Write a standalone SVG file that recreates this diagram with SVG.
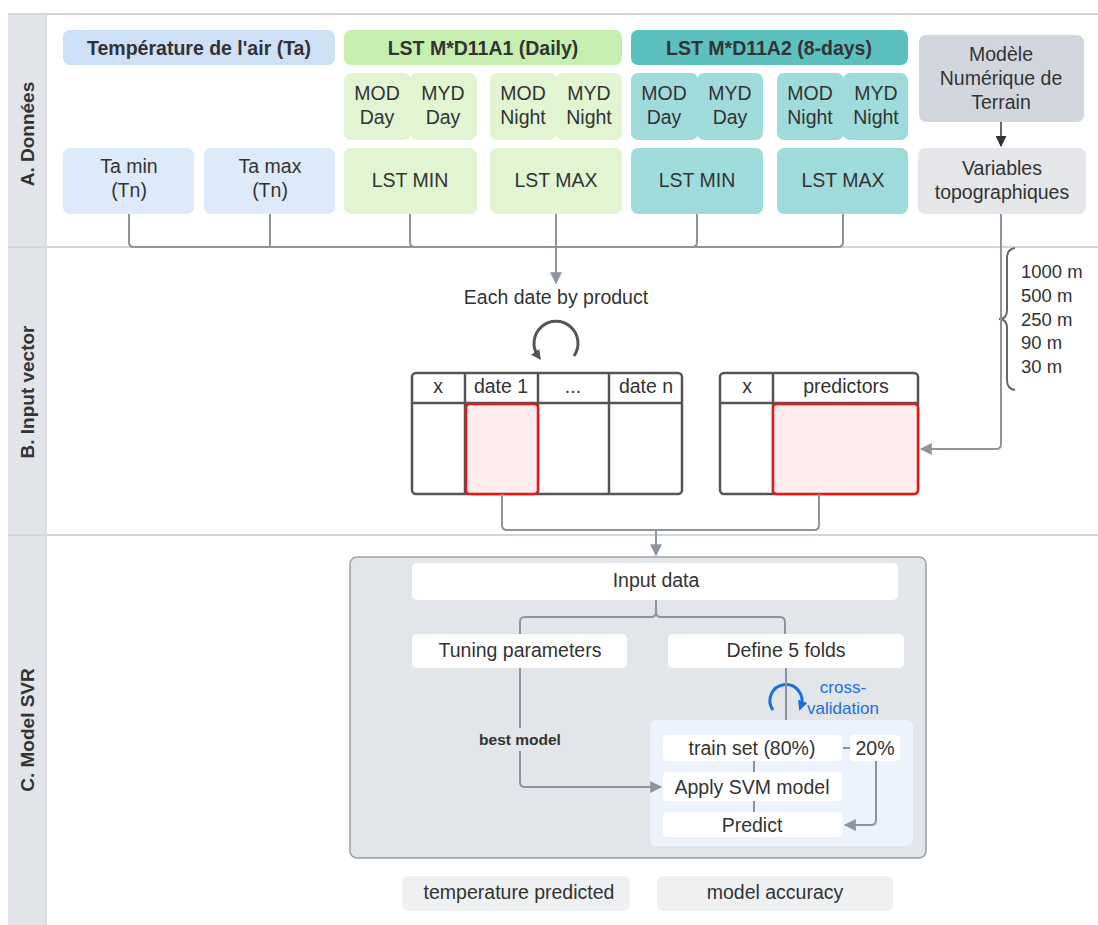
<svg xmlns="http://www.w3.org/2000/svg" width="1098" height="925" viewBox="0 0 1098 925">
<defs>
<style>
text{font-family:"Liberation Sans",Arial,sans-serif;fill:#333;}
.hd{font-weight:bold;font-size:19.5px;text-anchor:middle;}
.t{font-size:19.5px;text-anchor:middle;}
.s{font-size:19.5px;text-anchor:middle;}
.lane{font-weight:bold;font-size:19px;text-anchor:middle;}
.con{fill:none;stroke:#8d949e;stroke-width:2;}
.tbl{fill:#fff;stroke:#555;stroke-width:2.5;}
.red{fill:#ffecec;stroke:#e01b1b;stroke-width:2.5;}
.wb{fill:#fff;}
</style>
<marker id="arg" viewBox="0 0 10 10" refX="9" refY="5" markerWidth="14" markerHeight="12" orient="auto" markerUnits="userSpaceOnUse">
<path d="M0,0 L10,5 L0,10 z" fill="#8d949e"/>
</marker>
<marker id="ard" viewBox="0 0 10 10" refX="9" refY="5" markerWidth="11" markerHeight="11" orient="auto" markerUnits="userSpaceOnUse">
<path d="M0,0 L10,5 L0,10 z" fill="#333"/>
</marker>
<marker id="arc1" viewBox="0 0 10 10" refX="5" refY="5" markerWidth="10" markerHeight="10" orient="auto" markerUnits="userSpaceOnUse">
<path d="M0,0 L10,5 L0,10 z" fill="#555"/>
</marker>
<marker id="arcb" viewBox="0 0 10 10" refX="5" refY="5" markerWidth="10" markerHeight="10" orient="auto" markerUnits="userSpaceOnUse">
<path d="M0,0 L10,5 L0,10 z" fill="#1a6fe0"/>
</marker>
</defs>

<!-- lanes -->
<g id="lanes">
<rect x="0" y="0" width="1098" height="925" fill="#fff"/>
<rect x="8" y="14" width="38" height="911" fill="#e1e4e9"/>
<line x1="8" y1="14" x2="1098" y2="14" stroke="#d3d6dc" stroke-width="2"/>
<line x1="8" y1="247" x2="1098" y2="247" stroke="#d3d6dc" stroke-width="2"/>
<line x1="8" y1="535" x2="1098" y2="535" stroke="#d3d6dc" stroke-width="2"/>
<line x1="46" y1="14" x2="46" y2="925" stroke="#d3d6dc" stroke-width="1.5"/>
<text class="lane" transform="translate(34,134) rotate(-90)">A. Données</text>
<text class="lane" transform="translate(34,392) rotate(-90)">B. Input vector</text>
<text class="lane" transform="translate(34,730) rotate(-90)">C. Model SVR</text>
</g>

<!-- Section A -->
<g id="hdr-ta"><rect x="63" y="30" width="272" height="35" rx="7" fill="#cde0f6"/><text class="hd" x="199" y="55">Température de l'air (Ta)</text></g>
<g id="hdr-daily"><rect x="344" y="30" width="278" height="35" rx="7" fill="#c5eeaf"/><text class="hd" x="483" y="55">LST M*D11A1 (Daily)</text></g>
<g id="hdr-8days"><rect x="631" y="30" width="277" height="35" rx="7" fill="#5cc0bf"/><text class="hd" x="769" y="55">LST M*D11A2 (8-days)</text></g>
<g id="mnt"><rect x="919" y="35" width="165" height="87" rx="7" fill="#d1d6de"/><text class="t" x="1001" y="61">Modèle</text><text class="t" x="1001" y="85">Numérique de</text><text class="t" x="1001" y="109">Terrain</text></g>

<g id="d-modday"><rect x="344" y="73" width="67" height="67" rx="7" fill="#e1f5d2"/><text class="t" x="377" y="100">MOD</text><text class="t" x="377" y="124">Day</text></g>
<g id="d-mydday"><rect x="410" y="73" width="67" height="67" rx="7" fill="#e1f5d2"/><text class="t" x="443" y="100">MYD</text><text class="t" x="443" y="124">Day</text></g>
<g id="d-modnight"><rect x="490" y="73" width="67" height="67" rx="7" fill="#e1f5d2"/><text class="t" x="523" y="100">MOD</text><text class="t" x="523" y="124">Night</text></g>
<g id="d-mydnight"><rect x="556" y="73" width="66" height="67" rx="7" fill="#e1f5d2"/><text class="t" x="589" y="100">MYD</text><text class="t" x="589" y="124">Night</text></g>
<g id="e-modday"><rect x="631" y="73" width="67" height="67" rx="7" fill="#a0dbdb"/><text class="t" x="664" y="100">MOD</text><text class="t" x="664" y="124">Day</text></g>
<g id="e-mydday"><rect x="697" y="73" width="66" height="67" rx="7" fill="#a0dbdb"/><text class="t" x="730" y="100">MYD</text><text class="t" x="730" y="124">Day</text></g>
<g id="e-modnight"><rect x="777" y="73" width="67" height="67" rx="7" fill="#a0dbdb"/><text class="t" x="810" y="100">MOD</text><text class="t" x="810" y="124">Night</text></g>
<g id="e-mydnight"><rect x="843" y="73" width="65" height="67" rx="7" fill="#a0dbdb"/><text class="t" x="876" y="100">MYD</text><text class="t" x="876" y="124">Night</text></g>

<g id="tamin"><rect x="63" y="148" width="131" height="66" rx="7" fill="#dceaf9"/><text class="t" x="129" y="173">Ta min</text><text class="t" x="129" y="197">(Tn)</text></g>
<g id="tamax"><rect x="204" y="148" width="131" height="66" rx="7" fill="#dceaf9"/><text class="t" x="270" y="173">Ta max</text><text class="t" x="270" y="197">(Tn)</text></g>
<g id="d-lstmin"><rect x="344" y="148" width="133" height="66" rx="7" fill="#e1f5d2"/><text class="t" x="410" y="187">LST MIN</text></g>
<g id="d-lstmax"><rect x="490" y="148" width="132" height="66" rx="7" fill="#e1f5d2"/><text class="t" x="556" y="187">LST MAX</text></g>
<g id="e-lstmin"><rect x="631" y="148" width="132" height="66" rx="7" fill="#a0dbdb"/><text class="t" x="697" y="187">LST MIN</text></g>
<g id="e-lstmax"><rect x="777" y="148" width="131" height="66" rx="7" fill="#a0dbdb"/><text class="t" x="843" y="187">LST MAX</text></g>
<g id="vartopo"><rect x="918" y="148" width="168" height="66" rx="7" fill="#e4e6ea"/><text class="t" x="1002" y="175">Variables</text><text class="t" x="1002" y="199">topographiques</text></g>

<!-- Section B -->
<g id="eachdate">
<text class="s" x="556" y="304">Each date by product</text>
<path d="M574,356 A22,22 0 1 0 538,356" fill="none" stroke="#555" stroke-width="3" marker-end="url(#arc1)"/>
</g>

<g id="table1">
<rect class="tbl" x="412" y="373" width="270" height="121" rx="4"/>
<line x1="412" y1="403" x2="682" y2="403" stroke="#555" stroke-width="2.5"/>
<line x1="465" y1="373" x2="465" y2="494" stroke="#555" stroke-width="2.5"/>
<line x1="538" y1="373" x2="538" y2="494" stroke="#555" stroke-width="2.5"/>
<line x1="609" y1="373" x2="609" y2="494" stroke="#555" stroke-width="2.5"/>
<rect class="red" x="466" y="404" width="72" height="90" rx="4"/>
<text class="s" x="438" y="393">x</text>
<text class="s" x="501" y="393">date 1</text>
<text class="s" x="573" y="393">...</text>
<text class="s" x="646" y="393">date n</text>
</g>

<g id="table2">
<rect class="tbl" x="720" y="373" width="198" height="121" rx="4"/>
<line x1="720" y1="403" x2="918" y2="403" stroke="#555" stroke-width="2.5"/>
<line x1="773" y1="373" x2="773" y2="494" stroke="#555" stroke-width="2.5"/>
<rect class="red" x="773" y="404" width="145" height="90" rx="4"/>
<text class="s" x="747" y="393">x</text>
<text class="s" x="846" y="393">predictors</text>
</g>

<g id="resolutions">
<path d="M1015,248 Q1007,249 1007,258 L1007,310 Q1007,319 999,319 Q1007,319 1007,328 L1007,380 Q1007,389 1015,390" fill="none" stroke="#666" stroke-width="2"/>
<text x="1021" y="278" font-size="18.5">1000 m</text>
<text x="1021" y="302" font-size="18.5">500 m</text>
<text x="1021" y="326" font-size="18.5">250 m</text>
<text x="1021" y="349" font-size="18.5">90 m</text>
<text x="1021" y="373" font-size="18.5">30 m</text>
</g>

<!-- Section C -->
<g id="svr-container"><rect x="350" y="557" width="576" height="301" rx="7" fill="#e2e5e9" stroke="#9aa0a8" stroke-width="1.5"/></g>
<g id="inputdata"><rect class="wb" x="412" y="563" width="486" height="37" rx="5"/><text class="s" x="656" y="587">Input data</text></g>
<g id="tuning"><rect class="wb" x="412" y="634" width="215" height="34" rx="5"/><text class="s" x="520" y="657">Tuning parameters</text></g>
<g id="folds"><rect class="wb" x="668" y="634" width="236" height="34" rx="5"/><text class="s" x="786" y="657">Define 5 folds</text></g>
<g id="cv-panel"><rect x="650" y="720" width="263" height="126" rx="6" fill="#edf3fd"/></g>
<g id="trainset"><rect class="wb" x="663" y="735" width="179" height="26" rx="4"/><text class="s" x="752" y="755">train set (80%)</text></g>
<g id="test20"><rect class="wb" x="850" y="735" width="50" height="26" rx="4"/><text class="s" x="875" y="755">20%</text></g>
<g id="applysvm"><rect class="wb" x="663" y="772" width="179" height="29" rx="4"/><text class="s" x="752" y="794">Apply SVM model</text></g>
<g id="predict"><rect class="wb" x="663" y="812" width="179" height="25" rx="4"/><text class="s" x="752" y="832">Predict</text></g>
<g id="cv-label">
<path d="M773,710 A16,16 0 1 1 801,706" fill="none" stroke="#1a6fe0" stroke-width="3" marker-end="url(#arcb)"/>
<text x="843" y="693" font-size="17" text-anchor="middle" style="fill:#1a6fe0">cross-</text>
<text x="843" y="714" font-size="17" text-anchor="middle" style="fill:#1a6fe0">validation</text>
</g>
<g id="out-temp"><rect x="402" y="876" width="228" height="35" rx="6" fill="#eef0f2"/><text class="s" x="519" y="899">temperature predicted</text></g>
<g id="out-acc"><rect x="657" y="876" width="236" height="35" rx="6" fill="#eef0f2"/><text class="s" x="775" y="899">model accuracy</text></g>

<!-- Connectors -->
<g id="connectors">
<path class="con" d="M129,214 L129,242 Q129,247 134,247 L838,247 Q843,247 843,242 L843,214"/>
<path class="con" d="M270,214 L270,247"/>
<path class="con" d="M410,214 L410,242 Q410,247 415,247"/>
<path class="con" d="M556,214 L556,247"/>
<path class="con" d="M697,214 L697,242 Q697,247 692,247"/>
<path class="con" d="M556,247 L556,283" marker-end="url(#arg)"/>
<path d="M1001,122 L1001,146" fill="none" stroke="#333" stroke-width="1.5" marker-end="url(#ard)"/>
<path class="con" d="M1001,214 L1001,444 Q1001,449 996,449 L921,449" marker-end="url(#arg)"/>
<path class="con" d="M502,494 L502,525 Q502,530 507,530 L814,530 Q819,530 819,525 L819,494"/>
<path class="con" d="M656,530 L656,555" marker-end="url(#arg)"/>
<path class="con" d="M656,600 L656,612 Q656,617 651,617 L525,617 Q520,617 520,622 L520,634"/>
<path class="con" d="M656,612 Q656,617 661,617 L780,617 Q785,617 785,622 L785,634"/>
<path class="con" d="M520,668 L520,728"/>
<path class="con" d="M520,751 L520,782 Q520,787 525,787 L661,787" marker-end="url(#arg)"/>
<text x="520" y="745" font-size="15.5" font-weight="bold" text-anchor="middle">best model</text>
<path class="con" d="M786,668 L786,720"/>
<path class="con" d="M754,761 L754,772" stroke-width="1.5"/>
<path class="con" d="M754,801 L754,812" stroke-width="1.5"/>
<path class="con" d="M843,748 L850,748" stroke-width="1.5"/>
<path class="con" d="M876,761 L876,820 Q876,825 871,825 L845,825" marker-end="url(#arg)"/>
</g>
</svg>
